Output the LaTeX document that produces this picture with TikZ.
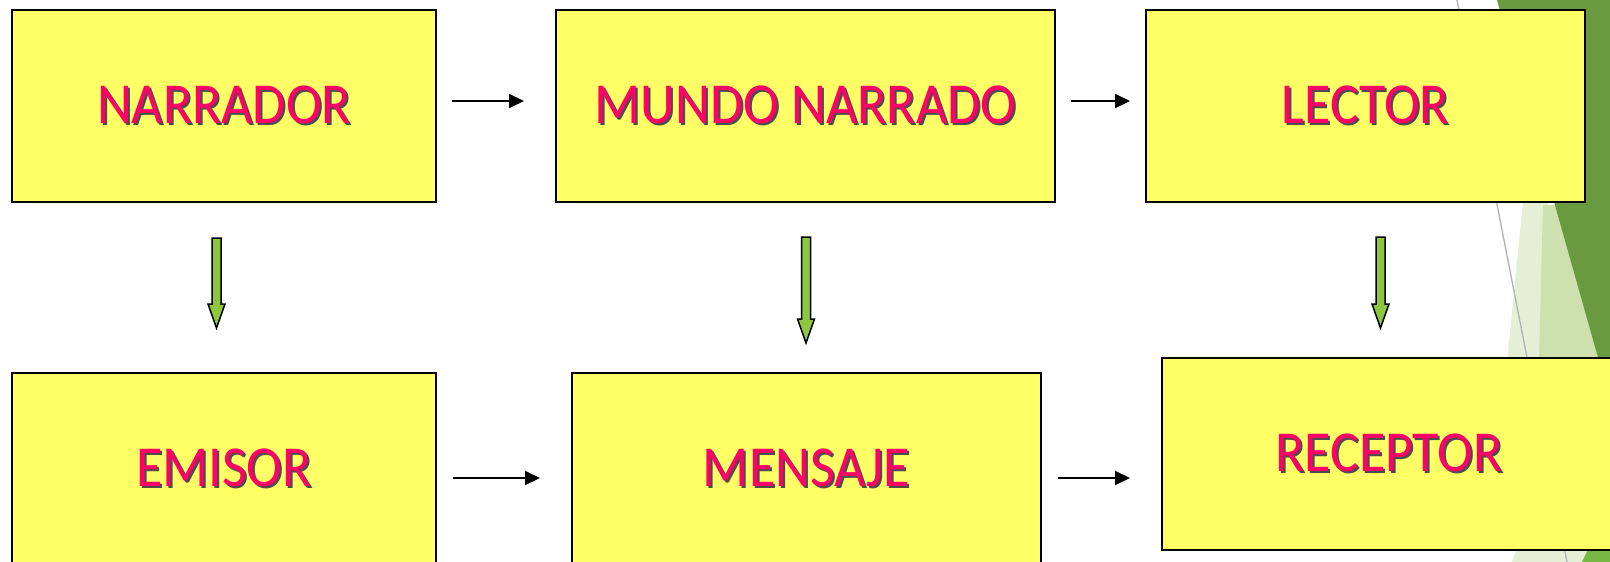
\documentclass[tikz,border=0pt]{standalone}
\usepackage{fontspec}
\setmainfont{Carlito}[FakeStretch=0.93]
\usetikzlibrary{arrows.meta,calc}
\definecolor{boxyellow}{HTML}{FFFF66}
\definecolor{txtpink}{HTML}{FF0066}
\definecolor{agreen}{HTML}{8DC63F}
\definecolor{dkgreen}{HTML}{6A9A3F}
\definecolor{mdgreen}{HTML}{CDE0AE}
\definecolor{plgreen}{HTML}{E4EFD6}
\definecolor{brgreen}{HTML}{77B843}
\newcommand{\shtext}[1]{\raisebox{-2pt}{\makebox[0pt][l]{\hspace{2pt}\raisebox{-2pt}{\textcolor{black!70}{#1}}}\textcolor{txtpink}{#1}}}
\begin{document}
\begin{tikzpicture}[x=1pt,y=-1pt,
  box/.style={draw=black, line width=2pt, fill=boxyellow, inner sep=0pt, font=\fontsize{58}{60}\selectfont},
  harrow/.style={draw=black, line width=2pt, -{Triangle[length=15pt,width=14pt]}},
  garrow/.style={draw=black, line width=1.5pt, fill=agreen, line join=miter}]
\clip (0,0) rectangle (1610,562);
\fill[white] (0,0) rectangle (1610,562);
% background decoration
\fill[plgreen] (1523,202) -- (1548,202) -- (1542,362) -- (1507,362) -- cycle;
\fill[mdgreen] (1543,205) -- (1610,205) -- (1610,362) -- (1539,362) -- cycle;
\fill[dkgreen] (1497,0) -- (1610,0) -- (1610,400) -- cycle;
\fill[plgreen] (1518,545) -- (1610,545) -- (1610,562) -- (1512,562) -- cycle;
\fill[brgreen] (1590,545) -- (1610,530) -- (1610,562) -- (1582,562) -- cycle;
\draw[black!30, line width=1.3pt] (1457,0) -- (1567,562);
% boxes
\node[box, minimum width=424pt, minimum height=192pt] (narr) at (224,106) {\shtext{NARRADOR}};
\node[box, minimum width=499pt, minimum height=192pt] (mundo) at (805.5,106) {\shtext{MUNDO NARRADO}};
\node[box, minimum width=439pt, minimum height=192pt] (lector) at (1365.5,106) {\shtext{LECTOR}};
\node[box, minimum width=424pt, minimum height=192pt] (emisor) at (224,469) {\shtext{EMISOR}};
\node[box, minimum width=469pt, minimum height=192pt] (mensaje) at (806.5,469) {\shtext{MENSAJE}};
\node[box, minimum width=454pt, minimum height=192pt] (receptor) at (1389,454) {\shtext{RECEPTOR}};
% horizontal arrows
\draw[harrow, shorten <=15pt, shorten >=31pt] ([yshift=5pt]narr.east) -- ([yshift=5pt]mundo.west);
\draw[harrow, shorten <=15pt, shorten >=15pt] ([yshift=5pt]mundo.east) -- ([yshift=5pt]lector.west);
\draw[harrow, shorten <=16pt, shorten >=31pt] ([yshift=-9pt]emisor.east) -- ([yshift=-9pt]mensaje.west);
\draw[harrow, shorten <=16pt, shorten >=31pt] ([yshift=-9pt]mensaje.east) -- ([yshift=-9pt]mensaje.east -| receptor.west);
% green block arrows
\coordinate (a1) at ([xshift=-7.5pt,yshift=-35pt]narr.south);
\coordinate (t1) at ([xshift=-7.5pt,yshift=44pt]emisor.north);
\coordinate (a2) at ([xshift=0.5pt,yshift=-34pt]mundo.south);
\coordinate (t2) at ([xshift=-0.5pt,yshift=29pt]mensaje.north);
\coordinate (a3) at ([xshift=15pt,yshift=-34pt]lector.south);
\coordinate (t3) at ($(a3 |- receptor.north)+(0,-29)$);
\foreach \a/\t in {a1/t1,a2/t2,a3/t3}{
  \draw[garrow] ([xshift=-4.5pt]\a) -- ([xshift=-4.5pt,yshift=24pt]\t) -- ([xshift=-8.5pt,yshift=24pt]\t) -- (\t)
    -- ([xshift=8.5pt,yshift=24pt]\t) -- ([xshift=4.5pt,yshift=24pt]\t) -- ([xshift=4.5pt]\a) -- cycle;
}
\end{tikzpicture}
\end{document}
